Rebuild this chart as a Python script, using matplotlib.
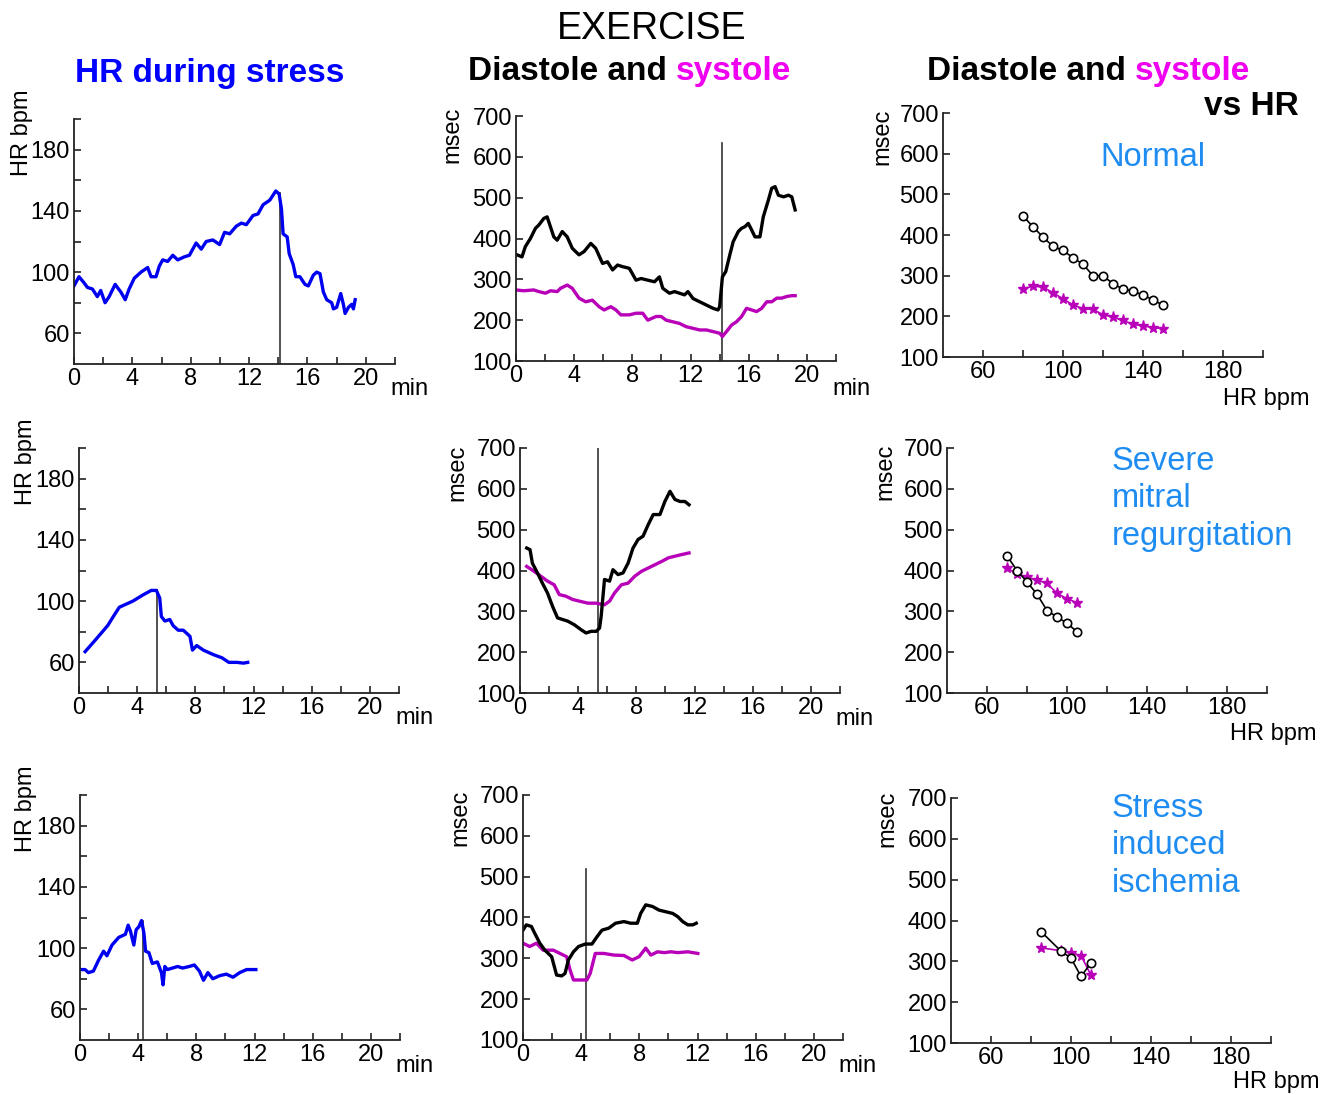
import matplotlib

matplotlib.use("Agg")
import matplotlib.pyplot as plt

plt.rcParams["font.family"] = ["Liberation Sans", "DejaVu Sans"]

# ---- data -------------------------------------------------------------
# row 1: normal
hr1_min = [0, 0.34, 0.69, 0.92, 1.26, 1.6, 1.83, 2.13, 2.41, 2.82, 3.21, 3.51, 3.78,
           4.13, 4.59, 5.05, 5.28, 5.62, 5.85, 6.08, 6.42, 6.77, 7.11, 7.57, 7.91,
           8.37, 8.72, 9.06, 9.52, 9.98, 10.32, 10.67, 11.12, 11.47, 11.81, 12.27,
           12.61, 12.96, 13.42, 13.83, 14.06, 14.22, 14.33, 14.61, 14.75, 15.02,
           15.2, 15.48, 15.83, 16.06, 16.4, 16.63, 16.86, 17.09, 17.32, 17.66,
           17.78, 18.0, 18.28, 18.46, 18.58, 18.81, 19.04, 19.15, 19.27]
hr1_bpm = [91, 97, 93, 90, 89, 84, 88, 80, 84, 92, 87, 82, 89, 96, 100, 103, 97, 97,
           104, 108, 107, 111, 108, 110, 111, 119, 115, 120, 121, 118, 126, 125, 130,
           132, 131, 137, 138, 144, 147, 153, 151, 141, 125, 123, 112, 105, 97, 97,
           92, 91, 98, 100, 99, 87, 82, 80, 76, 77, 86, 79, 73, 77, 79, 76, 82]
dia1_min = [0.07, 0.41, 0.64, 0.99, 1.34, 1.57, 1.91, 2.14, 2.6, 2.83, 3.18, 3.52,
            3.87, 4.33, 4.68, 5.14, 5.48, 5.95, 6.29, 6.64, 6.98, 7.33, 7.79, 8.25,
            8.6, 9.06, 9.52, 9.86, 10.09, 10.55, 10.9, 11.24, 11.59, 11.82, 12.17,
            12.63, 13.09, 13.55, 13.89, 14.0, 14.19, 14.42, 14.7, 14.93, 15.28,
            15.51, 15.74, 15.97, 16.2, 16.43, 16.77, 17.0, 17.35, 17.58, 17.81,
            18.04, 18.39, 18.73, 18.96, 19.19]
dia1_ms = [360, 355, 380, 400, 425, 433, 449, 453, 404, 396, 417, 404, 376, 360, 368,
           388, 376, 339, 343, 323, 335, 331, 327, 298, 302, 298, 294, 306, 278, 266,
           270, 266, 262, 270, 253, 245, 237, 229, 225, 233, 306, 319, 360, 392, 417,
           425, 429, 437, 421, 404, 404, 453, 494, 523, 527, 506, 502, 506, 502, 470]
sys1_min = [0, 0.53, 1.22, 1.57, 2.03, 2.37, 2.83, 3.06, 3.52, 3.87, 4.33, 4.79, 5.25,
            5.71, 6.06, 6.52, 6.87, 7.21, 7.79, 8.25, 8.71, 9.06, 9.63, 9.98, 10.32,
            10.78, 11.24, 11.7, 12.17, 12.63, 13.09, 13.55, 14.0, 14.19, 14.47,
            14.82, 15.16, 15.51, 15.85, 16.2, 16.54, 16.89, 17.24, 17.58, 17.93,
            18.27, 18.62, 18.96, 19.19]
sys1_ms = [274, 272, 274, 270, 266, 272, 270, 278, 286, 278, 254, 245, 249, 233, 225,
           233, 225, 213, 213, 217, 217, 200, 209, 209, 200, 196, 192, 184, 180, 176,
           176, 172, 168, 160, 172, 188, 196, 209, 229, 225, 221, 229, 245, 245, 254,
           254, 258, 260, 260]
hr_pts1 = [80, 85, 90, 95, 100, 105, 110, 115, 120, 125, 130, 135, 140, 145, 150]
dia_pts1 = [447, 420, 395, 372, 362, 344, 328, 300, 300, 280, 267, 262, 252, 241, 227]
sys_pts1 = [268, 274, 272, 258, 243, 228, 219, 217, 204, 198, 190, 180, 177, 172, 170]

# row 2: severe mitral regurgitation
hr2_min = [0.42, 1.16, 1.97, 2.43, 2.77, 3.7, 4.39, 4.97, 5.32, 5.55, 5.66, 5.9, 6.24,
           6.47, 6.82, 7.17, 7.63, 7.8, 8.09, 8.55, 9.25, 9.83, 10.3, 10.87, 11.3, 11.6]
hr2_bpm = [67, 75, 84, 91, 96, 100, 104, 107, 107, 102, 90, 87, 88, 84, 81, 81, 77,
           68, 71, 68, 65, 63, 60, 60, 59.5, 60]
dia2_min = [0.46, 0.69, 0.85, 1.2, 1.54, 1.89, 2.24, 2.58, 2.93, 3.28, 3.74, 4.2, 4.54,
            4.89, 5.24, 5.47, 5.58, 5.81, 6.16, 6.39, 6.74, 7.08, 7.43, 7.77, 8.12,
            8.46, 8.81, 9.16, 9.62, 9.96, 10.31, 10.65, 11.0, 11.34, 11.62]
dia2_ms = [455, 451, 418, 394, 369, 345, 312, 284, 280, 276, 267, 255, 247, 251, 251,
           259, 288, 378, 374, 402, 390, 394, 418, 455, 476, 484, 512, 537, 537, 569,
           594, 574, 569, 569, 561]
sys2_min = [0.46, 0.97, 1.43, 1.89, 2.35, 2.7, 3.16, 3.62, 4.08, 4.66, 5.24, 5.81,
            6.16, 6.5, 6.97, 7.43, 7.89, 8.35, 8.81, 9.27, 9.73, 10.2, 10.65, 11.11,
            11.62]
sys2_ms = [410, 398, 386, 374, 365, 341, 337, 329, 325, 320, 320, 316, 325, 345, 365,
           369, 386, 398, 406, 414, 422, 431, 435, 439, 443]
hr_pts2 = [70, 75, 80, 85, 90, 95, 100, 105]
dia_pts2 = [436, 400, 372, 342, 302, 286, 271, 250]
sys_pts2 = [406, 392, 384, 376, 369, 344, 331, 321]

# row 3: stress induced ischemia
hr3_min = [0, 0.35, 0.58, 0.92, 1.27, 1.62, 1.85, 2.2, 2.66, 3.12, 3.31, 3.47, 3.7,
           3.86, 4.05, 4.23, 4.39, 4.51, 4.74, 4.97, 5.32, 5.6, 5.71, 5.83, 6.01,
           6.36, 6.71, 7.05, 7.51, 7.86, 8.21, 8.49, 8.79, 9.13, 9.6, 10.06, 10.52,
           10.98, 11.45, 11.79, 12.09]
hr3_bpm = [86, 86, 84, 85, 92, 98, 95, 102, 107, 109, 115, 111, 102, 112, 114, 118,
           110, 98, 97, 90, 91, 84, 76, 88, 86, 87, 88, 87, 88, 89, 85, 79, 84, 80,
           82, 83, 81, 84, 86, 86, 86]
dia3_min = [0, 0.23, 0.58, 0.81, 1.16, 1.5, 1.97, 2.31, 2.66, 2.89, 3.12, 3.47, 3.82,
            4.28, 4.74, 5.09, 5.43, 5.9, 6.36, 6.94, 7.4, 7.86, 8.09, 8.44, 8.9,
            9.36, 9.83, 10.29, 10.64, 10.98, 11.33, 11.68, 11.91]
dia3_ms = [369, 382, 378, 361, 337, 320, 304, 259, 257, 263, 296, 316, 329, 335, 335,
           353, 369, 374, 386, 390, 386, 386, 410, 431, 427, 418, 414, 410, 402, 390,
           382, 382, 386]
sys3_min = [0, 0.46, 0.92, 1.39, 2.08, 2.54, 3.0, 3.24, 3.47, 3.93, 4.39, 4.62, 4.97,
            5.55, 6.24, 6.94, 7.51, 7.98, 8.44, 8.79, 9.25, 9.71, 10.17, 10.64,
            11.33, 12.02]
sys3_ms = [337, 329, 337, 320, 320, 312, 304, 271, 247, 247, 247, 263, 312, 312, 308,
           307, 296, 304, 325, 308, 316, 314, 316, 314, 316, 312]
hr_pts3 = [85, 95, 100, 105, 110]
dia_pts3 = [373, 325, 308, 263, 296]
sys_pts3 = [333, 326, 321, 314, 266]

peak_min = [14.15, 5.35, 4.3]
peak_hr = [152, 107, 118]
peak_line_ms = [634, 700, 518]
conditions = ["Normal", "Severe\nmitral\nregurgitation", "Stress\ninduced\nischemia"]

# ---- layout (pixel boxes: left, top, right, bottom) ------------------
W, H = 1333, 1095
boxes = [
    [(74, 119, 395, 364), (516, 116, 836, 361), (943, 113, 1263, 357)],
    [(79, 448, 399, 693), (520, 448, 840, 693), (947, 448, 1267, 693)],
    [(80, 795, 400, 1040), (523, 795, 843, 1040), (951, 798, 1271, 1043)],
]
BLUE = "#0000F0"
MAG = "#B800B8"
MAG_TXT = "#F000F0"
LBLUE = "#1E8CF0"
FS = 17


def fx(x):
    return x / W


def fy(y):
    return 1 - y / H


def make_axes(fig, box):
    l, t, r, b = box
    ax = fig.add_axes([fx(l), fy(b), (r - l) / W, (b - t) / H])
    for s in ("top", "right"):
        ax.spines[s].set_visible(False)
    for s in ("left", "bottom"):
        ax.spines[s].set_linewidth(1.3)
        ax.spines[s].set_color("#222222")
    ax.tick_params(which="both", direction="in", length=5, width=1.2,
                   labelsize=FS, color="#222222")
    ax.tick_params(axis="x", pad=3)
    ax.tick_params(axis="y", pad=3)
    return ax


def time_axis(ax):
    ax.set_xlim(0, 22)
    ax.set_xticks(range(0, 21, 4))
    ax.set_xticks(range(2, 23, 4), minor=True)


fig = plt.figure(figsize=(W / 100, H / 100), dpi=100)

rows = [
    (hr1_min, hr1_bpm, dia1_min, dia1_ms, sys1_min, sys1_ms, hr_pts1, dia_pts1, sys_pts1),
    (hr2_min, hr2_bpm, dia2_min, dia2_ms, sys2_min, sys2_ms, hr_pts2, dia_pts2, sys_pts2),
    (hr3_min, hr3_bpm, dia3_min, dia3_ms, sys3_min, sys3_ms, hr_pts3, dia_pts3, sys_pts3),
]

for i, (hm, hb, dm, dv, sm, sv, hp, dp, sp) in enumerate(rows):
    # HR during stress
    ax = make_axes(fig, boxes[i][0])
    time_axis(ax)
    ax.set_ylim(40, 200)
    ax.set_yticks([60, 100, 140, 180])
    ax.set_yticks([80, 120, 160, 200], minor=True)
    ax.plot([peak_min[i], peak_min[i]], [40, peak_hr[i]], color="#333333", lw=1.2)
    ax.plot(hm, hb, color=BLUE, lw=2.4)

    # diastole / systole vs time
    ax = make_axes(fig, boxes[i][1])
    time_axis(ax)
    ax.set_ylim(100, 700)
    ax.set_yticks(range(100, 701, 100))
    ax.plot([peak_min[i], peak_min[i]], [100, peak_line_ms[i]], color="#333333", lw=1.2)
    ax.plot(sm, sv, color=MAG, lw=2.4)
    ax.plot(dm, dv, color="black", lw=2.4)

    # diastole / systole vs HR
    ax = make_axes(fig, boxes[i][2])
    ax.set_xlim(40, 200)
    ax.set_xticks([60, 100, 140, 180])
    ax.set_xticks([80, 120, 160, 200], minor=True)
    ax.set_ylim(100, 700)
    ax.set_yticks(range(100, 701, 100))
    ax.plot(hp, sp, color=MAG, lw=1.2, marker="*", ms=8, mec=MAG, mfc=MAG)
    ax.plot(hp, dp, color="black", lw=1.2, marker="o", ms=6, mfc="white",
            mec="black", mew=1.2)

# ---- axis labels placed as in the reference --------------------------
for x, y in [(22, 133), (26, 462), (26, 809)]:
    fig.text(fx(x), fy(y), "HR bpm", rotation=90, fontsize=FS, ha="center", va="center")
for x, y in [(452, 135), (457, 473), (460, 818), (882, 137), (885, 472), (887, 819)]:
    fig.text(fx(x), fy(y), "msec", rotation=90, fontsize=FS, ha="center", va="center")
for x, y in [(390, 395), (832, 395), (395, 724), (835, 725), (395, 1072), (838, 1072)]:
    fig.text(fx(x), fy(y), "min", fontsize=FS, ha="left", va="baseline")
for x, y in [(1223, 405), (1230, 740), (1233, 1088)]:
    fig.text(fx(x), fy(y), "HR bpm", fontsize=FS, ha="left", va="baseline")

# condition names (y = baseline of the last line)
for (x, y), txt in zip([(1100, 166), (1112, 545), (1112, 892)], conditions):
    fig.text(fx(x), fy(y), txt, fontsize=23.5, color=LBLUE, ha="left", va="baseline",
             linespacing=1.28)

# ---- titles ----------------------------------------------------------
fig.text(fx(652), fy(39), "EXERCISE", fontsize=27, ha="center", va="baseline")
fig.text(fx(75), fy(82), "HR during stress", fontsize=24, weight="bold", color="#0000FF",
         ha="left", va="baseline")

renderer = fig.canvas.get_renderer()
for x0, y0 in [(468, 80), (927, 80)]:
    full = fig.text(fx(x0), fy(y0), "Diastole and systole", fontsize=24, weight="bold",
                    ha="left", va="baseline", alpha=0)
    right = full.get_window_extent(renderer).x1 / fig.bbox.width
    fig.text(fx(x0), fy(y0), "Diastole and", fontsize=24, weight="bold",
             ha="left", va="baseline")
    fig.text(right, fy(y0), "systole", fontsize=24, weight="bold", color=MAG_TXT,
             ha="right", va="baseline")
fig.text(fx(1299), fy(115), "vs HR", fontsize=24, weight="bold", ha="right", va="baseline")

fig.savefig("out.png", dpi=100)
